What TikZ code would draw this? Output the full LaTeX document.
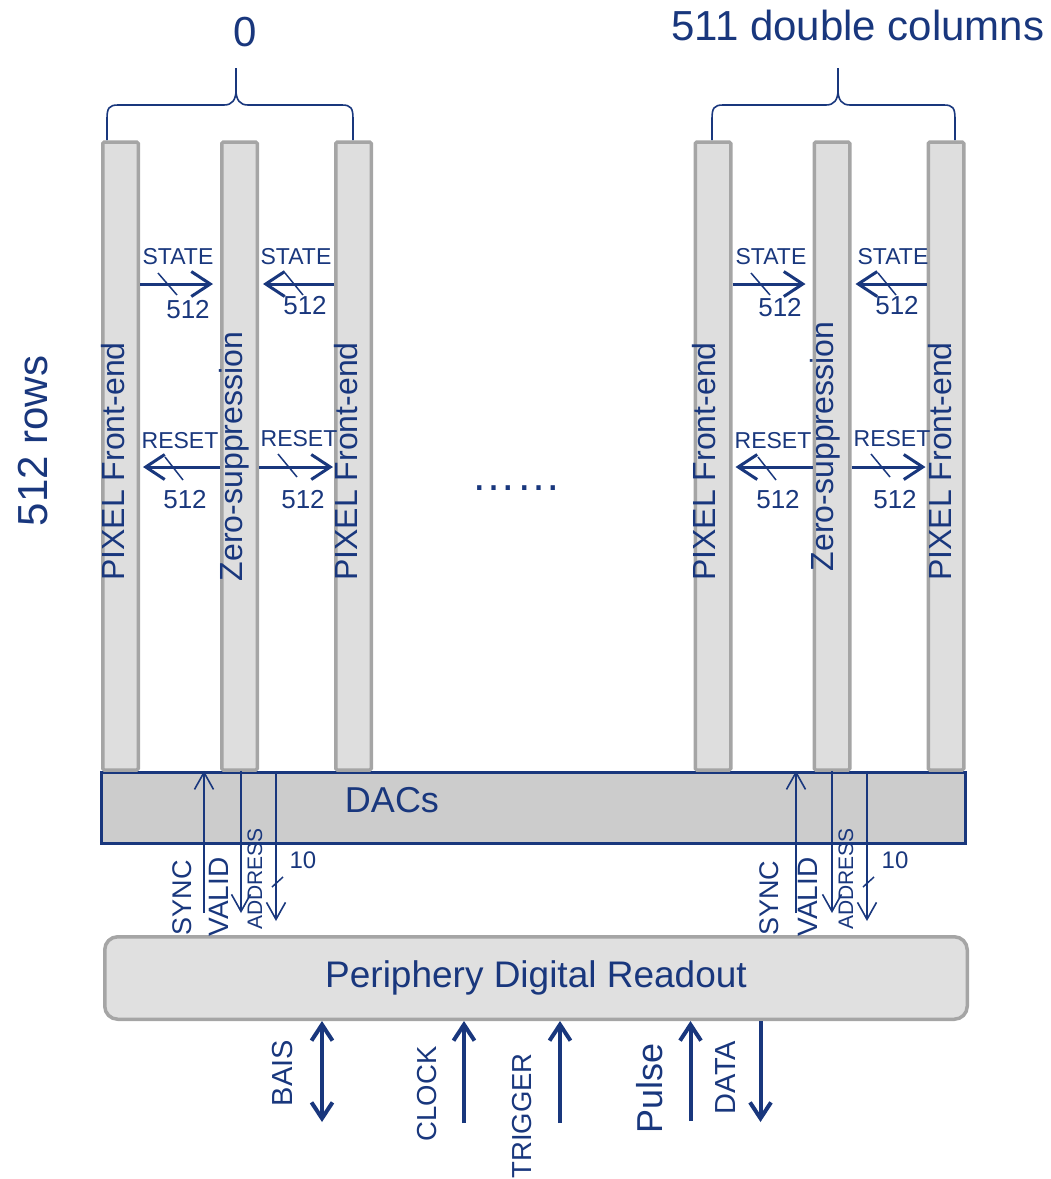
\documentclass[tikz,border=0pt]{standalone}
\usepackage{fontspec}
\setmainfont{Liberation Sans}
\usetikzlibrary{arrows.meta}
\definecolor{dblue}{RGB}{25,55,125}
\definecolor{colfill}{RGB}{222,222,222}
\definecolor{colline}{RGB}{165,165,165}
\definecolor{dacfill}{RGB}{204,204,204}
\definecolor{perfill}{RGB}{224,224,224}
\begin{document}
\begin{tikzpicture}[x=1pt,y=-1pt,
  colbox/.style={draw=colline, line width=3.5pt, fill=colfill, rounded corners=1.5pt,
    minimum width=35.5pt, minimum height=628pt, inner sep=0pt},
  lbl/.style={text=dblue, inner sep=0pt},
  fs/.style={font=\fontsize{#1}{#1}\selectfont},
  busarrow/.style={draw=dblue, line width=3pt, -{Straight Barb[length=19pt,width=25pt]}},
  busslash/.style={draw=dblue, line width=1.5pt},
  thinarrow/.style={draw=dblue, line width=1.6pt, -{Straight Barb[length=17pt,width=19pt]}},
  thickarrow/.style={draw=dblue, line width=4pt, -{Straight Barb[length=16pt,width=21pt]}},
  bracepath/.style={draw=dblue, line width=1.6pt},
]
\useasboundingbox (0,0) rectangle (1051,1179);

% DACs box
\node[draw=dblue, line width=3.5pt, fill=dacfill, minimum width=864pt, minimum height=71pt, inner sep=0pt] (dac) at (533.5,808) {};
\node[lbl, fs=36] (daclbl) at (392,800) {DACs};

% Columns
\node[colbox] (c1) at (120.5,456) {};
\node[colbox] (c2) at (239.5,456) {};
\node[colbox] (c3) at (353.5,456) {};
\node[colbox] (c4) at (713,456) {};
\node[colbox] (c5) at (832,456) {};
\node[colbox] (c6) at (946,456) {};

% Column texts
\node[lbl, fs=32, rotate=90] (t1) at (113.5,461.5) {PIXEL Front-end};
\node[lbl, fs=32, rotate=90] (t2) at (234.5,456.5) {Zero-suppression};
\node[lbl, fs=32, rotate=90] (t3) at (346.5,461.5) {PIXEL Front-end};
\node[lbl, fs=32, rotate=90] (t4) at (704.5,461.5) {PIXEL Front-end};
\node[lbl, fs=32, rotate=90] (t5) at (825.5,446.5) {Zero-suppression};
\node[lbl, fs=32, rotate=90] (t6) at (940,461.5) {PIXEL Front-end};

% Periphery
\node[draw=colline, line width=3.5pt, fill=perfill, rounded corners=13pt, minimum width=862.5pt, minimum height=82.5pt, inner sep=0pt, text=dblue, font=\fontsize{37}{37}\selectfont] (per) at (536,978) {Periphery Digital Readout};

% Header labels and braces
\node[lbl, fs=42] (zero) at (245,32) {0};
\node[lbl, fs=42] (last) at (858,25) {511 double columns};
\node[lbl, fs=42, rotate=90] (rows) at (33,441) {512 rows};
\node[lbl, fs=45, anchor=base] (dots) at (516,490) {……};

\draw[bracepath] (107,140) -- (107,119) .. controls (107,108) and (109,105) .. (118,105) -- (224,105) .. controls (232,105) and (236,100) .. (236,90) -- (236,68);
\draw[bracepath] (353,140) -- (353,119) .. controls (353,108) and (351,105) .. (342,105) -- (248,105) .. controls (240,105) and (236,100) .. (236,90);
\draw[bracepath] (712,140) -- (712,119) .. controls (712,108) and (714,105) .. (723,105) -- (826,105) .. controls (834,105) and (838,100) .. (838,90) -- (838,68);
\draw[bracepath] (955,140) -- (955,119) .. controls (955,108) and (953,105) .. (944,105) -- (850,105) .. controls (842,105) and (838,100) .. (838,90);

% y levels
\coordinate (yst) at (0,284);
\coordinate (yrs) at (0,467);

% Left group bus arrows
\draw[busarrow, shorten >=7pt] (c1.east |- yst) -- (c2.west |- yst);
\draw[busarrow, shorten >=4pt] (c3.west |- yst) -- (c2.east |- yst);
\draw[busarrow, shorten >=3pt] (c2.west |- yrs) -- (c1.east |- yrs);
\draw[busarrow, shorten >=1pt] (c2.east |- yrs) -- (c3.west |- yrs);
\draw[busslash] (158,273) -- (177,295);
\draw[busslash] (285,273) -- (303,295);
\draw[busslash] (165,457) -- (183,480);
\draw[busslash] (278,454) -- (297,477);
\node[lbl, fs=23] (s1) at (178,257) {STATE};
\node[lbl, fs=26] (n1) at (188,310) {512};
\node[lbl, fs=23] (s2) at (296,257) {STATE};
\node[lbl, fs=26] (n2) at (305,306) {512};
\node[lbl, fs=23] (r1) at (180,441) {RESET};
\node[lbl, fs=26] (n3) at (185,500) {512};
\node[lbl, fs=23] (r2) at (299,439) {RESET};
\node[lbl, fs=26] (n4) at (303,500) {512};

% Right group bus arrows
\draw[busarrow, shorten >=7pt] (c4.east |- yst) -- (c5.west |- yst);
\draw[busarrow, shorten >=4pt] (c6.west |- yst) -- (c5.east |- yst);
\draw[busarrow, shorten >=3pt] (c5.west |- yrs) -- (c4.east |- yrs);
\draw[busarrow, shorten >=1pt] (c5.east |- yrs) -- (c6.west |- yrs);
\draw[busslash] (751,273) -- (770,295);
\draw[busslash] (878,273) -- (896,295);
\draw[busslash] (758,457) -- (776,480);
\draw[busslash] (871,454) -- (890,477);
\node[lbl, fs=23] (s3) at (771,257) {STATE};
\node[lbl, fs=26] (n5) at (780,308) {512};
\node[lbl, fs=23] (s4) at (893,257) {STATE};
\node[lbl, fs=26] (n6) at (897,306) {512};
\node[lbl, fs=23] (r3) at (773,441) {RESET};
\node[lbl, fs=26] (n7) at (778,500) {512};
\node[lbl, fs=23] (r4) at (892,439) {RESET};
\node[lbl, fs=26] (n8) at (895,500) {512};

% DAC / readout signals, left
\coordinate (sy1) at (204,913);
\coordinate (va1) at (241,913);
\coordinate (ad1) at (276,921);
\draw[thinarrow] (sy1) -- (sy1 |- dac.north);
\draw[thinarrow] (va1 |- dac.north) -- (va1);
\draw[thinarrow] (ad1 |- dac.north) -- (ad1);
\draw[busslash] (272,887) -- (283,877);
\node[lbl, fs=27, rotate=90] (sync1) at (182.5,897.5) {SYNC};
\node[lbl, fs=28, rotate=90] (valid1) at (219,897) {VALID};
\node[lbl, fs=21, rotate=90] (addr1) at (255,879) {ADDRESS};
\node[lbl, fs=24] (ten1) at (303,860) {10};

% DAC / readout signals, right
\coordinate (sy2) at (796,913);
\coordinate (va2) at (832,913);
\coordinate (ad2) at (867,921);
\draw[thinarrow] (sy2) -- (sy2 |- dac.north);
\draw[thinarrow] (va2 |- dac.north) -- (va2);
\draw[thinarrow] (ad2 |- dac.north) -- (ad2);
\draw[busslash] (863,887) -- (874,877);
\node[lbl, fs=27, rotate=90] (sync2) at (769,898) {SYNC};
\node[lbl, fs=28, rotate=90] (valid2) at (807.5,897) {VALID};
\node[lbl, fs=21, rotate=90] (addr2) at (846,879) {ADDRESS};
\node[lbl, fs=24] (ten2) at (895,860) {10};

% Bottom I/O
\coordinate (bais) at (322,1122);
\coordinate (clk) at (464,1123);
\coordinate (trg) at (560,1123);
\coordinate (pls) at (690.5,1121);
\coordinate (dat) at (760.5,1122);
\draw[thickarrow, {Straight Barb[length=16pt,width=21pt]}-{Straight Barb[length=16pt,width=21pt]}] (per.south -| bais) -- (bais);
\draw[thickarrow] (clk) -- (per.south -| clk);
\draw[thickarrow] (trg) -- (per.south -| trg);
\draw[thickarrow] (pls) -- (per.south -| pls);
\draw[thickarrow] (per.south -| dat) -- (dat);
\node[lbl, fs=29, rotate=90] (lbais) at (283,1073) {BAIS};
\node[lbl, fs=27.5, rotate=90] (lclk) at (427.5,1094) {CLOCK};
\node[lbl, fs=27.5, rotate=90] (ltrg) at (522.5,1116) {TRIGGER};
\node[lbl, fs=36, rotate=90] (lpls) at (649.5,1088) {Pulse};
\node[lbl, fs=29, rotate=90] (ldat) at (726,1077.5) {DATA};
\end{tikzpicture}
\end{document}
